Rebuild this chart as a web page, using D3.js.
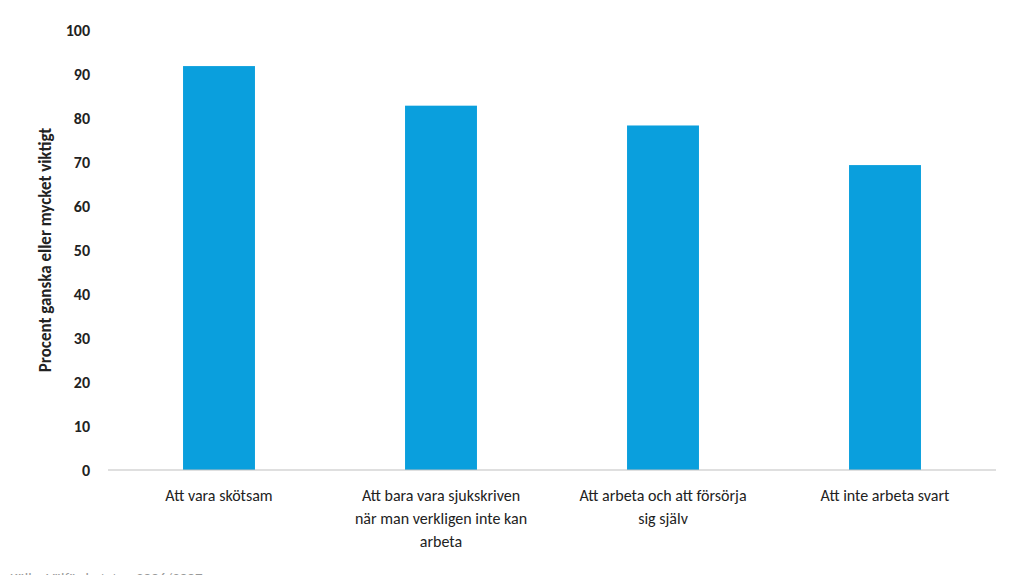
<!DOCTYPE html>
<html><head><meta charset="utf-8">
<script src="https://cdn.jsdelivr.net/npm/d3@7"></script>
<style>body{margin:0;background:#fff;font-family:Calibri,Carlito,"Open Sans",sans-serif}</style>
</head><body><svg id="c"></svg>
<script>
const categories = [
  ['Att vara skötsam'],
  ['Att bara vara sjukskriven', 'när man verkligen inte kan', 'arbeta'],
  ['Att arbeta och att försörja', 'sig själv'],
  ['Att inte arbeta svart']
];
const values = [91.8, 82.8, 78.3, 69.3];
const yTicks = [0, 10, 20, 30, 40, 50, 60, 70, 80, 90, 100];

const width = 1024, height = 575;
const margin = { top: 30, right: 28, bottom: 105, left: 108 };
const svg = d3.select('#c').attr('width', width).attr('height', height);

const x = d3.scaleBand().domain(d3.range(values.length))
  .range([margin.left, width - margin.right]).paddingInner(0.676).paddingOuter(0.338);
const y = d3.scaleLinear().domain([0, 100]).range([height - margin.bottom, margin.top]);

// Bars
svg.selectAll('.bar').data(values).join('rect')
  .attr('x', (d, i) => x(i)).attr('y', d => y(d))
  .attr('width', x.bandwidth()).attr('height', d => y(0) - y(d))
  .attr('fill', '#0a9fdd');

// X axis line
svg.append('line')
  .attr('x1', margin.left).attr('x2', width - margin.right)
  .attr('y1', y(0)).attr('y2', y(0)).attr('stroke', '#bfbfbf').attr('stroke-width', 1);

// Y tick labels
svg.selectAll('.yt').data(yTicks).join('text')
  .attr('x', 90).attr('y', d => y(d) + 6).attr('text-anchor', 'end')
  .attr('font-size', 16).attr('font-weight', 600).attr('fill', '#222').text(d => d);

// Category labels
categories.forEach((lines, i) => {
  const t = svg.append('text').attr('text-anchor', 'middle')
    .attr('font-size', 16).attr('fill', '#222');
  lines.forEach((l, j) => t.append('tspan')
    .attr('x', x(i) + x.bandwidth() / 2).attr('y', 501 + j * 23).text(l));
});

// Y axis label
svg.append('text').attr('transform', 'rotate(-90)')
  .attr('x', -(y(0) + y(100)) / 2).attr('y', 51).attr('text-anchor', 'middle')
  .attr('font-size', 17).attr('font-weight', 600).attr('fill', '#222')
  .text('Procent ganska eller mycket viktigt');

// Source (cut off at bottom edge, as in the reference)
svg.append('text').attr('x', 10).attr('y', 583).attr('font-size', 15)
  .attr('fill', '#999').text('Källa: Välfärdsstaten 2006/2007');
</script></body></html>
